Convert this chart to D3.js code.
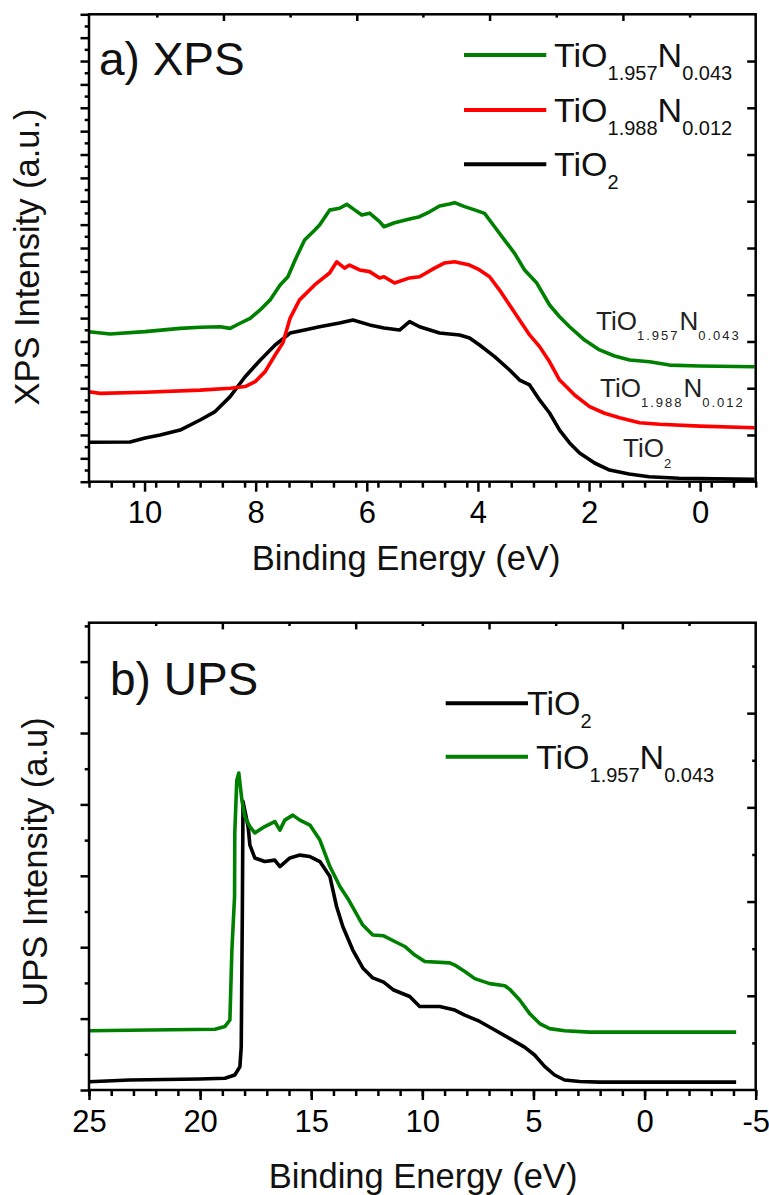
<!DOCTYPE html>
<html>
<head>
<meta charset="utf-8">
<script src="https://cdn.jsdelivr.net/npm/d3@7"></script>
<style>
  body { margin: 0; background: #fff; }
  svg { display: block; font-family: "Liberation Sans", Arial, sans-serif; }
</style>
</head>
<body>
<div id="container"></div>
<script>
// ---- data ----
// a) XPS, binding energy (eV) and intensity (a.u.)
const xpsTiO2E = [11.0, 10.26, 9.99, 9.72, 9.36, 9.0, 8.73, 8.46, 8.19, 7.92, 7.65, 7.38, 7.12, 6.85, 6.49, 6.25, 5.95, 5.69, 5.41, 5.23, 5.05, 4.69, 4.33, 4.15, 3.97, 3.7, 3.43, 3.25, 3.07, 2.89, 2.71, 2.53, 2.35, 2.17, 1.9, 1.63, 1.28, 0.92, 0.38, -0.98];
const xpsTiO2I = [1.69, 1.70, 1.87, 2.0, 2.21, 2.64, 3.0, 3.64, 4.49, 5.2, 5.85, 6.36, 6.49, 6.63, 6.79, 6.92, 6.71, 6.58, 6.49, 6.85, 6.63, 6.36, 6.28, 6.15, 5.85, 5.35, 4.78, 4.35, 4.14, 3.5, 2.94, 2.21, 1.66, 1.23, 0.8, 0.5, 0.33, 0.21, 0.15, 0.1];

const xpsN012E = [11.0, 10.8, 9.99, 9.0, 8.46, 8.19, 8.01, 7.83, 7.65, 7.51, 7.38, 7.21, 7.03, 6.94, 6.67, 6.54, 6.4, 6.31, 6.13, 5.95, 5.77, 5.69, 5.5, 5.23, 5.05, 4.78, 4.6, 4.42, 4.15, 3.97, 3.79, 3.61, 3.43, 3.25, 3.07, 2.89, 2.71, 2.53, 2.26, 1.99, 1.72, 1.45, 1.09, 0.73, 0.01, -0.98];
const xpsN012I = [3.85, 3.78, 3.83, 3.92, 4.0, 4.07, 4.28, 4.71, 5.42, 5.94, 7.0, 7.78, 8.2, 8.42, 8.93, 9.41, 9.14, 9.27, 9.06, 8.99, 8.72, 8.77, 8.5, 8.72, 8.77, 9.14, 9.36, 9.41, 9.27, 9.06, 8.77, 8.2, 7.56, 6.92, 6.28, 5.78, 5.13, 4.35, 3.71, 3.21, 2.93, 2.74, 2.52, 2.46, 2.38, 2.31];

const xpsN043E = [11.0, 10.62, 9.99, 9.36, 9.0, 8.64, 8.46, 8.28, 8.1, 7.92, 7.74, 7.56, 7.42, 7.29, 7.12, 6.94, 6.85, 6.67, 6.49, 6.36, 6.22, 6.09, 5.95, 5.77, 5.69, 5.5, 5.23, 5.05, 4.87, 4.69, 4.51, 4.42, 4.24, 4.06, 3.88, 3.7, 3.52, 3.34, 3.16, 2.94, 2.71, 2.53, 2.35, 2.08, 1.81, 1.54, 1.27, 0.91, 0.55, 0.01, -0.98];
const xpsN043I = [6.42, 6.32, 6.42, 6.56, 6.61, 6.63, 6.56, 6.78, 6.99, 7.35, 7.78, 8.42, 8.77, 9.49, 10.34, 10.76, 10.98, 11.62, 11.7, 11.87, 11.63, 11.41, 11.49, 11.13, 10.91, 11.08, 11.24, 11.34, 11.55, 11.8, 11.88, 11.94, 11.77, 11.63, 11.48, 10.91, 10.34, 9.77, 9.06, 8.5, 7.56, 7.06, 6.63, 6.06, 5.64, 5.38, 5.21, 5.13, 4.99, 4.95, 4.92];

// b) UPS
const upsTiO2E = [25.0, 23.16, 20.01, 18.88, 18.44, 18.21, 18.15, 18.1, 18.07, 17.84, 17.76, 17.54, 17.09, 16.64, 16.41, 15.96, 15.51, 15.06, 14.61, 14.16, 13.86, 13.58, 13.13, 12.68, 12.23, 11.74, 11.29, 10.57, 10.12, 9.22, 8.54, 8.09, 7.42, 6.74, 6.06, 5.4, 4.95, 4.5, 4.05, 3.6, 2.92, 2.02, -4.12];
const upsTiO2I = [0.116, 0.14, 0.154, 0.164, 0.21, 0.326, 0.6, 2.5, 4.04, 3.69, 3.43, 3.25, 3.2, 3.22, 3.13, 3.25, 3.29, 3.27, 3.2, 2.99, 2.57, 2.29, 1.96, 1.71, 1.57, 1.51, 1.4, 1.31, 1.17, 1.17, 1.12, 1.05, 0.96, 0.84, 0.72, 0.6, 0.49, 0.33, 0.21, 0.14, 0.12, 0.11, 0.11];

const upsN043E = [25.0, 22.26, 19.33, 18.88, 18.66, 18.57, 18.45, 18.44, 18.35, 18.26, 18.12, 17.99, 17.76, 17.54, 17.09, 16.64, 16.41, 16.19, 15.83, 15.51, 15.06, 14.61, 14.16, 13.71, 13.35, 12.68, 12.23, 11.74, 11.24, 10.79, 10.34, 9.89, 8.77, 8.54, 8.09, 7.64, 6.97, 6.29, 6.07, 5.62, 5.17, 4.72, 4.27, 3.6, 2.47, -4.12];
const upsN043I = [0.83, 0.84, 0.85, 0.89, 0.98, 1.96, 2.71, 3.6, 4.34, 4.44, 4.06, 3.83, 3.69, 3.6, 3.69, 3.76, 3.64, 3.78, 3.85, 3.78, 3.71, 3.5, 3.13, 2.85, 2.68, 2.31, 2.17, 2.16, 2.08, 2.01, 1.89, 1.8, 1.78, 1.75, 1.66, 1.56, 1.49, 1.46, 1.41, 1.26, 1.07, 0.93, 0.86, 0.83, 0.81, 0.81];

// tick values
const xpsXLabels = [10, 8, 6, 4, 2, 0];
const xpsXMinor = d3.range(11, -1.01, -0.4);
const xpsTopTicks = [9.78, 8.58, 7.38, 6.18, 4.99, 3.79, 2.59, 1.39, 0.19];
const upsXLabels = [25, 20, 15, 10, 5, 0, -5];
const upsXMinor = d3.range(25, -5.01, -1);
const upsTopTicks = [22, 19, 16, 13, 10, 7, 4, 1, -2];

const green = "#008000", red = "#ff0000", black = "#000000";

const W = 769, H = 1195;
const svg = d3.select("#container").append("svg")
    .attr("width", W).attr("height", H);

// draws a chemical formula, parts = [text, isSub]
function formula(x, y, parts, size, subSize, subDy, subSpacing, color) {
    const t = svg.append("text")
        .attr("x", x).attr("y", y)
        .attr("fill", color || "#111");
    let down = false;
    parts.forEach(([s, sub]) => {
        const ts = t.append("tspan").text(s);
        if (sub) {
            ts.attr("font-size", subSize).attr("dy", down ? 0 : subDy)
              .attr("letter-spacing", subSpacing || 0);
            down = true;
        } else {
            ts.attr("font-size", size).attr("dy", down ? -subDy : 0)
              .attr("letter-spacing", 0);
            down = false;
        }
    });
    return t;
}

function drawPanel(p) {
    const x = d3.scaleLinear().domain(p.xDomain).range([89, 755.7]);
    const y = d3.scaleLinear().domain(p.yDomain).range([p.bottom, p.top]);
    const yR = d3.scaleLinear().domain(p.rightDomain).range([p.bottom, p.top]);
    const g = svg.append("g");

    const styleAxis = sel => {
        sel.select(".domain").remove();
        sel.selectAll("line").attr("stroke", "#000").attr("stroke-width", 2.5);
        sel.attr("font-family", null).attr("font-size", 31);
    };

    // bottom axis: labelled majors and minors
    g.append("g").attr("transform", `translate(0,${p.bottom})`)
        .call(d3.axisBottom(x).tickValues(p.xMinor).tickSize(6).tickFormat(""))
        .call(styleAxis);
    g.append("g").attr("transform", `translate(0,${p.bottom})`)
        .call(d3.axisBottom(x).tickValues(p.xLabels).tickSize(10).tickPadding(9.5)
            .tickFormat(d => String(d)))
        .call(styleAxis);

    // top axis, ticks pointing in
    g.append("g").attr("transform", `translate(0,${p.top})`)
        .call(d3.axisTop(x).tickValues(p.topTicks).tickSizeInner(0).tickFormat(""))
        .call(styleAxis)
        .selectAll(".tick line")
        .attr("y2", (d, i) => i % 2 === 1 ? 6.7 : 3.3);

    // left axis, majors and halves
    const yMax = p.yDomain[1];
    g.append("g").attr("transform", "translate(89,0)")
        .call(d3.axisLeft(y).tickValues(d3.range(0.5, yMax, 1)).tickSize(4.3).tickFormat(""))
        .call(styleAxis);
    g.append("g").attr("transform", "translate(89,0)")
        .call(d3.axisLeft(y).tickValues(d3.range(0, yMax + 0.01, 1)).tickSize(8.5).tickFormat(""))
        .call(styleAxis);

    // right axis, ticks pointing in
    g.append("g").attr("transform", "translate(755.7,0)")
        .call(d3.axisRight(yR).tickValues(p.rightTicks).tickSizeInner(0).tickFormat(""))
        .call(styleAxis)
        .selectAll(".tick line")
        .attr("x2", d => d % 2 === 0 ? -8.5 : -3.5);

    // curves
    const line = d3.line().x(d => x(d[0])).y(d => y(d[1]));
    p.series.forEach(s => {
        g.append("path")
            .datum(d3.zip(s.e, s.i))
            .attr("fill", "none")
            .attr("stroke", s.color)
            .attr("stroke-width", 3.6)
            .attr("stroke-linejoin", "round")
            .attr("d", line);
    });

    // frame
    g.append("rect")
        .attr("x", 89).attr("y", p.top)
        .attr("width", 755.7 - 89).attr("height", p.bottom - p.top)
        .attr("fill", "none").attr("stroke", "#000").attr("stroke-width", 2.5);

    // titles
    g.append("text").attr("x", p.panelX).attr("y", p.panelY)
        .attr("font-size", 46).attr("fill", "#111").text(p.panel);
    g.append("text").attr("x", p.xTitleX).attr("y", p.xTitleY)
        .attr("text-anchor", "middle").attr("font-size", 34.5).attr("fill", "#111")
        .text("Binding Energy (eV)");
    g.append("text")
        .attr("transform", `translate(${p.yTitleX},${p.yTitleY}) rotate(-90)`)
        .attr("text-anchor", "middle").attr("font-size", 34.5).attr("fill", "#111")
        .text(p.yTitle);
}

drawPanel({
    xDomain: [11, -1], yDomain: [0, 20], rightDomain: [0, 20],
    top: 14.3, bottom: 481.7,
    xLabels: xpsXLabels, xMinor: xpsXMinor, topTicks: xpsTopTicks,
    rightTicks: [2, 4, 6, 8, 10, 12, 14, 16, 18],
    series: [
        { e: xpsTiO2E, i: xpsTiO2I, color: black },
        { e: xpsN012E, i: xpsN012I, color: red },
        { e: xpsN043E, i: xpsN043I, color: green }
    ],
    panel: "a) XPS", panelX: 99, panelY: 75,
    xTitleX: 406, xTitleY: 570,
    yTitle: "XPS Intensity (a.u.)", yTitleX: 38.5, yTitleY: 257
});

drawPanel({
    xDomain: [25, -5], yDomain: [0, 6.545], rightDomain: [0, 9.92],
    top: 622.7, bottom: 1090,
    xLabels: upsXLabels, xMinor: upsXMinor, topTicks: upsTopTicks,
    rightTicks: [1, 2, 3, 4, 5, 6, 7, 8, 9],
    series: [
        { e: upsTiO2E, i: upsTiO2I, color: black },
        { e: upsN043E, i: upsN043I, color: green }
    ],
    panel: "b) UPS", panelX: 110, panelY: 695,
    xTitleX: 423, xTitleY: 1188,
    yTitle: "UPS Intensity (a.u)", yTitleX: 46.7, yTitleY: 862
});

// legends
const legendA = [
    { color: green, y: 55, parts: [["TiO", false], ["1.957", true], ["N", false], ["0.043", true]] },
    { color: red, y: 110, parts: [["TiO", false], ["1.988", true], ["N", false], ["0.012", true]] },
    { color: black, y: 164.3, parts: [["TiO", false], ["2", true]] }
];
legendA.forEach(d => {
    svg.append("line").attr("x1", 464).attr("x2", 546.3).attr("y1", d.y).attr("y2", d.y)
        .attr("stroke", d.color).attr("stroke-width", 4);
    formula(554, d.y + 12, d.parts, 34, 20, 13);
});

const legendB = [
    { color: black, y: 703.3, tx: 527, parts: [["TiO", false], ["2", true]] },
    { color: green, y: 756.7, tx: 536, parts: [["TiO", false], ["1.957", true], ["N", false], ["0.043", true]] }
];
legendB.forEach(d => {
    svg.append("line").attr("x1", 445.7).attr("x2", 528).attr("y1", d.y).attr("y2", d.y)
        .attr("stroke", d.color).attr("stroke-width", 4);
    formula(d.tx, d.y + 12, d.parts, 34, 20, 13);
});

// labels next to the XPS curves
formula(596, 330, [["TiO", false], ["1.957", true], ["N", false], ["0.043", true]], 26, 13, 10, 2, "#222");
formula(600, 396.7, [["TiO", false], ["1.988", true], ["N", false], ["0.012", true]], 26, 13, 10, 2, "#222");
formula(623, 456.7, [["TiO", false], ["2", true]], 26, 13, 11, 0, "#222");
</script>
</body>
</html>
